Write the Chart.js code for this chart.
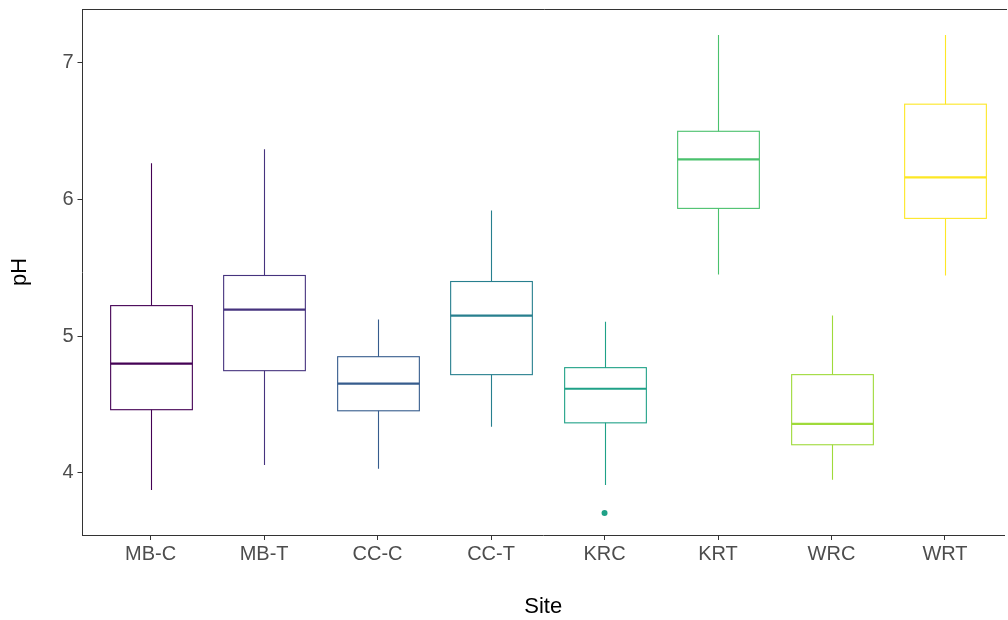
<!DOCTYPE html>
<html>
<head>
<meta charset="utf-8">
<script src="https://cdn.jsdelivr.net/npm/chart.js@4"></script>
<style>
  html, body { margin: 0; padding: 0; background: #fff; }
  canvas { display: block; }
</style>
</head>
<body>
<canvas id="box_chart" width="1008" height="620"></canvas>
<script>
// data
const sites = ["MB-C", "MB-T", "CC-C", "CC-T", "KRC", "KRT", "WRC", "WRT"];
const whiskerLow  = [3.876, 4.059, 4.030, 4.337, 3.913, 5.449, 3.950, 5.442];
const q1          = [4.462, 4.747, 4.454, 4.718, 4.366, 5.932, 4.206, 5.859];
const median      = [4.798, 5.193, 4.652, 5.149, 4.615, 6.290, 4.359, 6.159];
const q3          = [5.222, 5.442, 4.849, 5.398, 4.769, 6.495, 4.718, 6.693];
const whiskerHigh = [6.261, 6.364, 5.120, 5.917, 5.105, 7.198, 5.149, 7.198];
const outliers    = [{ site: "KRC", value: 3.708 }];
const colors = ["#440154", "#46337E", "#365C8D", "#277F8E", "#1FA187", "#4AC16D", "#9FDA3A", "#FDE725"];
const yTicks = [4, 5, 6, 7];

var canvas = document.getElementById("box_chart");

const boxPlugin = {
  id: "boxes",
  beforeDatasetsDraw(chart) {
    const ctx = chart.ctx;
    const xs = chart.scales.x, ys = chart.scales.y;
    const half = xs.getPixelForValue(1.36) - xs.getPixelForValue(1);
    ctx.save();
    sites.forEach((s, i) => {
      const cx = Math.round(xs.getPixelForValue(i + 1)) + 0.5;
      const yLo = ys.getPixelForValue(whiskerLow[i]);
      const yQ1 = ys.getPixelForValue(q1[i]);
      const yMed = ys.getPixelForValue(median[i]);
      const yQ3 = ys.getPixelForValue(q3[i]);
      const yHi = ys.getPixelForValue(whiskerHigh[i]);
      ctx.strokeStyle = colors[i];
      ctx.lineWidth = 1.1;
      // whiskers
      ctx.beginPath();
      ctx.moveTo(cx, yHi); ctx.lineTo(cx, yQ3);
      ctx.moveTo(cx, yQ1); ctx.lineTo(cx, yLo);
      ctx.stroke();
      // box
      ctx.strokeRect(cx - half, yQ3, half * 2, yQ1 - yQ3);
      // median
      ctx.lineWidth = 2.2;
      ctx.beginPath();
      ctx.moveTo(cx - half, yMed); ctx.lineTo(cx + half, yMed);
      ctx.stroke();
    });
    ctx.restore();
  },
  afterDraw(chart) {
    // top edge of the panel border (right edge falls outside the picture)
    const a = chart.chartArea, ctx = chart.ctx;
    ctx.save();
    ctx.strokeStyle = "#333333";
    ctx.lineWidth = 1;
    ctx.beginPath();
    ctx.moveTo(a.left, Math.round(a.top) + 0.5);
    ctx.lineTo(a.right + 3, Math.round(a.top) + 0.5);
    ctx.stroke();
    ctx.restore();
  }
};

const chart = new Chart(canvas, {
  type: "scatter",
  data: {
    datasets: [
      {
        label: "outliers",
        data: outliers.map((o) => ({ x: sites.indexOf(o.site) + 1, y: o.value })),
        backgroundColor: outliers.map((o) => colors[sites.indexOf(o.site)]),
        borderWidth: 0,
        pointRadius: 3,
      },
    ],
  },
  options: {
    responsive: false,
    animation: false,
    layout: { padding: { top: 9, right: 0, left: 0, bottom: 0 } },
    plugins: { legend: { display: false }, tooltip: { enabled: false } },
    scales: {
      x: {
        type: "linear",
        min: 0.4,
        max: 8.52,
        afterBuildTicks: (scale) => { scale.ticks = sites.map((s, i) => ({ value: i + 1 })); },
        afterFit: (scale) => { scale.height = 85; scale.paddingLeft = 0; scale.paddingRight = 0; },
        ticks: {
          callback: (v) => sites[v - 1],
          color: "#4D4D4D",
          font: { family: "Liberation Sans", size: 20 },
          padding: 2,
          maxRotation: 0,
          autoSkip: false,
        },
        grid: { drawOnChartArea: false, drawTicks: true, tickLength: 5, color: "#333333" },
        border: { display: true, color: "#333333" },
        title: {
          display: true,
          text: "Site",
          color: "#000",
          font: { family: "Liberation Sans", size: 22 },
          padding: { top: 10, bottom: 0 },
        },
      },
      y: {
        min: 3.547,
        max: 7.388,
        afterBuildTicks: (scale) => { scale.ticks = yTicks.map((v) => ({ value: v })); },
        afterFit: (scale) => { scale.width = 82.5; scale.paddingTop = 0; scale.paddingBottom = 0; },
        ticks: {
          color: "#4D4D4D",
          font: { family: "Liberation Sans", size: 20 },
          padding: 4,
        },
        grid: { drawOnChartArea: false, drawTicks: true, tickLength: 5, color: "#333333" },
        border: { display: true, color: "#333333" },
        title: {
          display: true,
          text: "pH",
          color: "#000",
          font: { family: "Liberation Sans", size: 22 },
          padding: { top: 7, bottom: 0 },
        },
      },
    },
  },
  plugins: [boxPlugin],
});
</script>
</body>
</html>
